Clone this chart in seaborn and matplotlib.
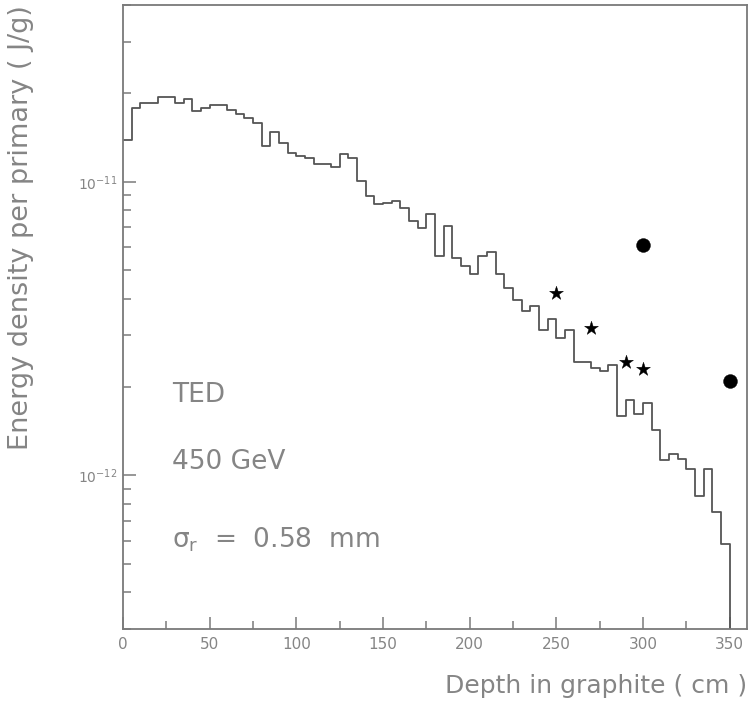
import numpy as np
import pandas as pd
import matplotlib
matplotlib.use("Agg")
import matplotlib.pyplot as plt
import seaborn as sns
from matplotlib.ticker import LogLocator, MultipleLocator, NullFormatter, LogFormatterMathtext, FixedLocator

# ---- data -------------------------------------------------------------
bin_width = 5
bin_low = list(range(0, 360, 5))  # lower edges of the 5 cm depth bins
energy_density = [
    1.385e-11, 1.782e-11, 1.862e-11, 1.862e-11, 1.947e-11, 1.947e-11, 1.848e-11, 1.913e-11, 1.748e-11, 1.790e-11,
    1.824e-11, 1.824e-11, 1.754e-11, 1.699e-11, 1.647e-11, 1.591e-11, 1.324e-11, 1.482e-11, 1.359e-11, 1.256e-11,
    1.224e-11, 1.202e-11, 1.147e-11, 1.147e-11, 1.122e-11, 1.247e-11, 1.202e-11, 1.005e-11, 8.94e-12, 8.37e-12,
    8.48e-12, 8.59e-12, 8.15e-12, 7.34e-12, 6.97e-12, 7.74e-12, 5.57e-12, 7.06e-12, 5.50e-12, 5.15e-12,
    4.85e-12, 5.57e-12, 5.76e-12, 4.85e-12, 4.34e-12, 3.96e-12, 3.63e-12, 3.79e-12, 3.14e-12, 3.40e-12,
    2.93e-12, 3.12e-12, 2.43e-12, 2.43e-12, 2.33e-12, 2.27e-12, 2.38e-12, 1.595e-12, 1.804e-12, 1.62e-12,
    1.766e-12, 1.425e-12, 1.125e-12, 1.185e-12, 1.14e-12, 1.053e-12, 8.54e-13, 1.048e-12, 7.53e-13, 5.84e-13,
    0.0, 0.0,
]

star_depth = [250, 270, 290, 300]
star_value = [4.18e-12, 3.19e-12, 2.43e-12, 2.31e-12]

dot_depth = [300, 350]
dot_value = [6.11e-12, 2.09e-12]

y_major_ticks = [1e-12, 1e-11]

annotations = ["TED", "450 GeV", r"$\mathregular{\sigma_r}$  =  0.58  mm"]

# ---- style ------------------------------------------------------------
sns.set_style("white")
plt.rcParams["font.family"] = ["DejaVu Sans"]
plt.rcParams["mathtext.fontset"] = "dejavusans"

grey = "#7a7a7a"
text_grey = "#858585"

fig = plt.figure(figsize=(7.5, 7.06), dpi=100)
ax = fig.add_axes([123 / 750, 1 - 629 / 706, 624 / 750, 624 / 706])

edges = bin_low + [bin_low[-1] + bin_width]
step_df = pd.DataFrame({"depth": edges, "edep": energy_density + [energy_density[-1]]})
sns.lineplot(data=step_df, x="depth", y="edep", drawstyle="steps-post",
             color="#555555", linewidth=1.3, estimator=None, ax=ax)

ax.set_yscale("log")

sns.scatterplot(x=star_depth, y=star_value, marker="*", s=110, color="black",
                edgecolor="black", linewidth=0.3, ax=ax, zorder=3)
sns.scatterplot(x=dot_depth, y=dot_value, marker="o", s=100, color="black",
                edgecolor="black", linewidth=0.3, ax=ax, zorder=3)

ax.set_xlim(0, 360)
ax.set_ylim(3e-13, 4e-11)

ax.xaxis.set_major_locator(MultipleLocator(50))
ax.xaxis.set_minor_locator(MultipleLocator(25))
ax.yaxis.set_major_locator(FixedLocator(y_major_ticks))
ax.yaxis.set_minor_locator(LogLocator(base=10, subs=np.arange(2, 10), numticks=20))
ax.yaxis.set_major_formatter(LogFormatterMathtext())
ax.yaxis.set_minor_formatter(NullFormatter())

ax.tick_params(axis="both", which="major", direction="in", length=9, width=1.1,
               color=grey, labelcolor=text_grey, left=True, bottom=True, top=False, right=False)
ax.tick_params(axis="both", which="minor", direction="in", length=5.5, width=1.1,
               color=grey, left=True, bottom=True, top=False, right=False,
               labelleft=False, labelbottom=False)
ax.tick_params(axis="x", which="major", labelsize=11, pad=6)
ax.tick_params(axis="y", which="major", labelsize=10, pad=4)

for sp in ax.spines.values():
    sp.set_visible(True)
    sp.set_color(grey)
    sp.set_linewidth(1.3)

ax.set_ylabel("")
ax.set_xlabel("Depth in graphite ( cm )", loc="right", fontsize=18, color=text_grey)
ax.xaxis.set_label_coords(1.0, -0.072)
ax.text(21 / 750, 1 - 5 / 706, "Energy density per primary ( J/g)", transform=fig.transFigure,
        rotation=90, ha="center", va="top", fontsize=19.5, color=text_grey)

ypos = [0.375, 0.268, 0.143]
for txt, yy in zip(annotations, ypos):
    ax.text(0.079, yy, txt, transform=ax.transAxes, fontsize=19, color=text_grey,
            ha="left", va="center")

fig.savefig("out.png", dpi=100)
